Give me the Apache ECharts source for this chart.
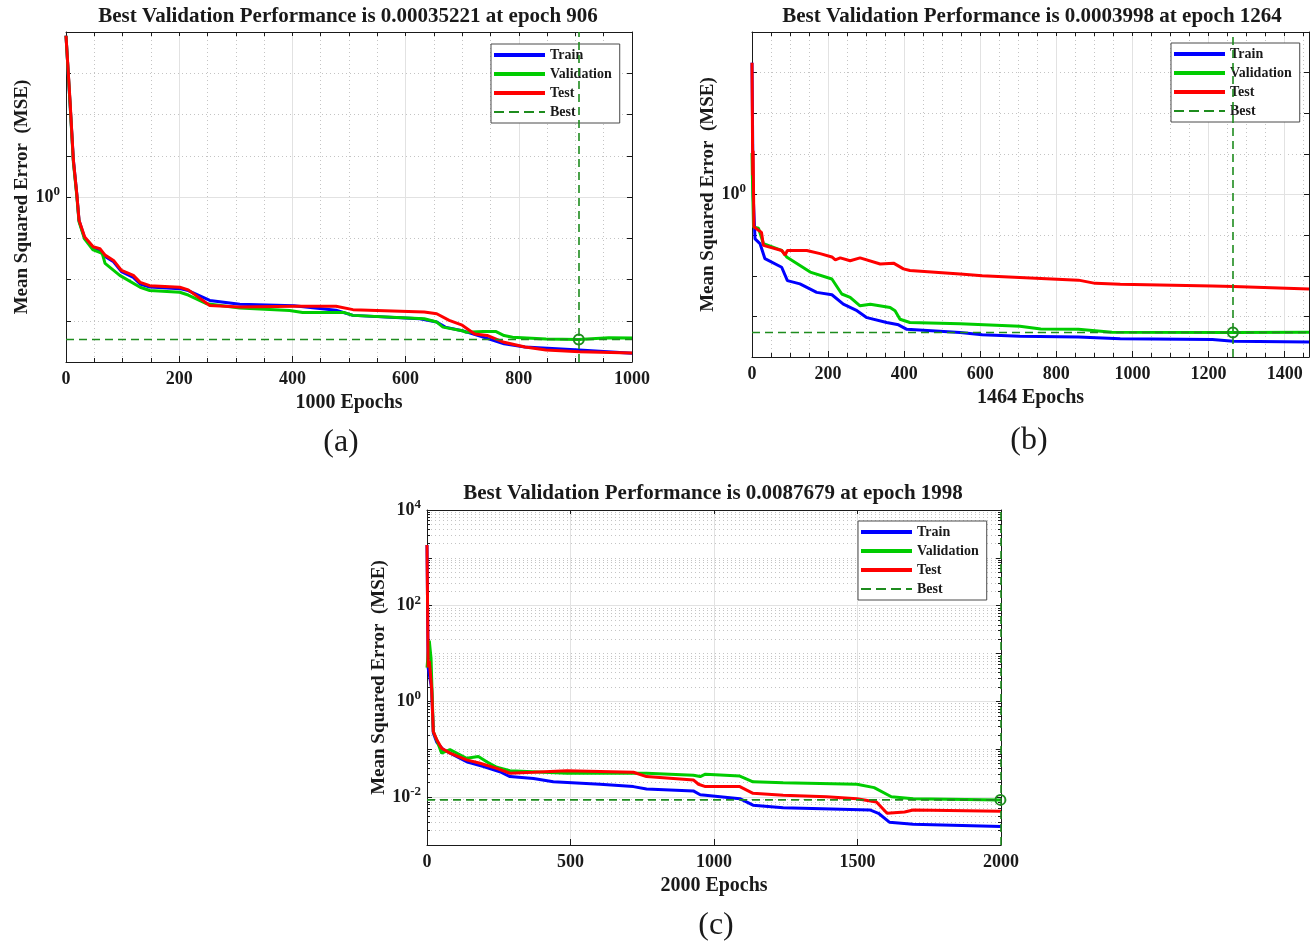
<!DOCTYPE html>
<html lang="en">
<head>
<meta charset="UTF-8">
<title>Performance curves</title>
<style>
    html, body { margin: 0; padding: 0; background: #fff; }
    #chart { width: 1315px; height: 943px; }
</style>
<script src="https://cdn.jsdelivr.net/npm/echarts@6/dist/echarts.min.js"></script>
</head>
<body>
<div id="chart"></div>
<script>
    // ---- values ----
    var panelNames = ['(a)', '(b)', '(c)'];
    var epochCount = [1000, 1464, 2000];
    var bestEpoch = [906, 1264, 1998];
    var bestMse = [0.00035221, 0.0003998, 0.0087679];

    // x tick labels
    var xTicksA = [0, 200, 400, 600, 800, 1000];
    var xTicksB = [0, 200, 400, 600, 800, 1000, 1200, 1400];
    var xTicksC = [0, 500, 1000, 1500, 2000];
    // y tick labels (log axis)
    var yLabelsA = [1];
    var yLabelsB = [1];
    var yLabelsC = [0.01, 1, 100, 10000];

    // panel (a)
    var trainA = [[0, 8100], [7, 200], [13, 8], [19, 1.2], [23, 0.27], [33, 0.1], [48, 0.058], [60, 0.048], [69, 0.036],
        [84, 0.027], [98, 0.0155], [119, 0.0112], [131, 0.0078], [148, 0.0066], [201, 0.006], [216, 0.0054], [254, 0.0031],
        [307, 0.0025], [403, 0.0023], [477, 0.0018], [507, 0.00135], [625, 0.00112], [655, 0.00093], [670, 0.0007],
        [700, 0.000575], [737, 0.0004], [774, 0.000275], [811, 0.00023], [907, 0.000195], [1000, 0.000162]];
    var valA = [[0, 8100], [7, 200], [13, 7], [19, 1.1], [23, 0.25], [33, 0.095], [48, 0.052], [64, 0.043], [69, 0.0245],
        [95, 0.0126], [131, 0.0065], [148, 0.0054], [201, 0.0049], [216, 0.0042], [249, 0.00257], [307, 0.00204],
        [395, 0.00178], [418, 0.00158], [492, 0.00158], [507, 0.00135], [633, 0.00112], [655, 0.00093], [666, 0.0007],
        [700, 0.000575], [707, 0.000525], [737, 0.00055], [759, 0.00055], [774, 0.000437], [789, 0.000398],
        [848, 0.000363], [906, 0.00035221], [959, 0.000389], [1000, 0.00038]];
    var testA = [[0, 8100], [7, 234], [13, 7.9], [19, 1.23], [23, 0.275], [33, 0.107], [48, 0.062], [60, 0.056], [69, 0.039],
        [84, 0.029], [98, 0.0166], [119, 0.0126], [131, 0.0085], [148, 0.0071], [201, 0.0065], [216, 0.0056], [254, 0.00234],
        [307, 0.00214], [403, 0.00224], [477, 0.00224], [507, 0.00186], [633, 0.00162], [655, 0.00148], [677, 0.00102],
        [700, 0.00078], [722, 0.00048], [744, 0.00044], [774, 0.0003], [811, 0.00023], [848, 0.000195], [907, 0.000178],
        [1000, 0.000166]];

    // panel (b)
    var trainB = [[0, 1740], [3, 1], [8, 0.081], [21, 0.062], [34, 0.0263], [78, 0.0162], [93, 0.0076], [126, 0.0063],
        [170, 0.0039], [210, 0.0034], [240, 0.002], [276, 0.00138], [302, 0.00093], [354, 0.00071], [385, 0.00062],
        [407, 0.00048], [547, 0.0004], [605, 0.000355], [704, 0.000324], [858, 0.000309], [968, 0.000282],
        [1210, 0.000269], [1265, 0.000245], [1464, 0.000234]];
    var valB = [[0, 10.5], [1, 3], [4, 0.158], [17, 0.148], [30, 0.062], [78, 0.042], [91, 0.029], [153, 0.0123],
        [210, 0.0083], [236, 0.00355], [258, 0.00295], [284, 0.00182], [311, 0.002], [363, 0.00166], [376, 0.00138],
        [389, 0.00085], [415, 0.000708], [547, 0.00066], [704, 0.000575], [759, 0.00049], [858, 0.000479],
        [946, 0.000407], [1264, 0.0003998], [1464, 0.000407]];
    var testB = [[0, 1740], [2, 3], [3, 12], [5, 0.16], [17, 0.132], [25, 0.117], [30, 0.056], [78, 0.042], [87, 0.032],
        [93, 0.042], [144, 0.042], [179, 0.035], [210, 0.029], [219, 0.0245], [232, 0.0275], [258, 0.0234], [284, 0.0275],
        [337, 0.0195], [372, 0.0204], [398, 0.0148], [415, 0.0135], [547, 0.011], [605, 0.01], [858, 0.0078],
        [902, 0.0065], [968, 0.0062], [1210, 0.0056], [1265, 0.0054], [1464, 0.0047]];

    // panel (c)
    var trainC = [[0, 1860], [4, 5], [16, 1.9], [22, 0.22], [34, 0.14], [57, 0.098], [138, 0.055], [197, 0.0437],
        [254, 0.0339], [289, 0.0269], [371, 0.0245], [440, 0.0209], [603, 0.0186], [719, 0.0166], [765, 0.0148],
        [928, 0.0135], [952, 0.0112], [970, 0.011], [1090, 0.0093], [1136, 0.0068], [1241, 0.006], [1543, 0.0054],
        [1573, 0.0046], [1611, 0.003], [1694, 0.0027], [2000, 0.00245]];
    var valC = [[0, 5.1], [8, 18.6], [14, 8], [22, 0.234], [35, 0.15], [51, 0.083], [80, 0.098], [138, 0.065],
        [179, 0.071], [208, 0.055], [243, 0.042], [289, 0.0355], [487, 0.0316], [765, 0.0316], [928, 0.0288],
        [952, 0.0269], [970, 0.0302], [1090, 0.0275], [1136, 0.0209], [1241, 0.02], [1498, 0.0186], [1558, 0.0158],
        [1618, 0.0102], [1694, 0.0093], [1998, 0.0087679], [2000, 0.0087]];
    var testC = [[0, 1860], [4, 5.2], [8, 7], [16, 1.95], [22, 0.234], [34, 0.158], [51, 0.105], [80, 0.083],
        [138, 0.06], [185, 0.051], [243, 0.04], [289, 0.0316], [371, 0.0331], [487, 0.0355], [719, 0.0331],
        [765, 0.0269], [928, 0.0229], [946, 0.0186], [970, 0.0166], [1090, 0.0166], [1136, 0.012], [1241, 0.011],
        [1392, 0.0102], [1498, 0.0093], [1566, 0.0079], [1603, 0.0046], [1664, 0.0049], [1694, 0.0054], [2000, 0.0051]];

    var FONT = 'Liberation Serif';
    var INK = '#1a1a1a';
    var BLUE = '#0000ff', GREEN = '#00cc00', RED = '#ff0000', BEST = '#1e8c1e';

    // layout of each panel
    var panels = [
        { grid: { left: 66, top: 32, width: 566, height: 330 }, xTicks: xTicksA, xMinor: 50, yExp: [-4, 4],
          yLabels: yLabelsA, yMinor: false, train: trainA, val: valA, test: testA,
          titleAt: [348, 17], capAt: [341, 443], legendAt: [491, 44] },
        { grid: { left: 752, top: 32, width: 557, height: 325 }, xTicks: xTicksB, xMinor: 50, yExp: [-4, 4],
          yLabels: yLabelsB, yMinor: false, train: trainB, val: valB, test: testB,
          titleAt: [1032, 17], capAt: [1029, 441], legendAt: [1171, 43] },
        { grid: { left: 427, top: 510, width: 574, height: 335 }, xTicks: xTicksC, xMinor: 0, yExp: [-3, 4],
          yLabels: yLabelsC, yMinor: true, train: trainC, val: valC, test: testC,
          titleAt: [713, 494], capAt: [716, 926], legendAt: [858, 521] }
    ];

    var option = {
        backgroundColor: '#fff',
        animation: false,
        title: [], legend: [], grid: [], xAxis: [], yAxis: [], series: []
    };

    function powLabel(v) {
        var e = Math.round(Math.log(v) / Math.LN10);
        return '{b|10}{s|' + e + '}';
    }

    var dotted = { color: '#c4c4c4', width: 1, type: [1, 3] };
    var solidGrid = { color: '#e2e2e2', width: 1, type: 'solid' };
    var boldText = { fontFamily: FONT, fontWeight: 'bold', color: INK };

    panels.forEach(function (p, i) {
        var xMax = epochCount[i];
        var yMin = Number('1e' + p.yExp[0]), yMax = Number('1e' + p.yExp[1]);

        option.grid.push(p.grid);

        // tick positions
        var xMinorTicks = [];
        if (p.xMinor) {
            for (var v = 0; v <= xMax; v += p.xMinor) xMinorTicks.push(v);
        }
        var xTickVals = p.xMinor ? xMinorTicks : p.xTicks;
        var decades = [];
        for (var k = p.yExp[0]; k <= p.yExp[1]; k++) decades.push(Number('1e' + k));
        var minors = [];
        if (p.yMinor) {
            for (var k2 = p.yExp[0]; k2 < p.yExp[1]; k2++) {
                for (var m = 2; m <= 9; m++) minors.push(Number(m + 'e' + k2));
            }
        }

        var xi = option.xAxis.length;
        option.xAxis.push({
            type: 'value', gridIndex: i, min: 0, max: xMax, position: 'bottom',
            name: xMax + ' Epochs', nameLocation: 'middle', nameGap: 31,
            nameTextStyle: Object.assign({ fontSize: 20 }, boldText),
            axisLine: { show: true, onZero: false, lineStyle: { color: INK, width: 1 } },
            axisTick: { show: true, inside: true, length: 4, customValues: xTickVals, lineStyle: { color: INK } },
            axisLabel: Object.assign({
                customValues: p.xTicks, margin: 8, fontSize: 18,
                formatter: function (val) { return String(val); }
            }, boldText),
            splitLine: { show: !!p.xMinor, lineStyle: dotted }
        });
        option.xAxis.push({
            type: 'value', gridIndex: i, min: 0, max: xMax, position: 'top',
            axisLine: { show: true, onZero: false, lineStyle: { color: INK, width: 1 } },
            axisTick: { show: true, inside: true, length: 4, customValues: xTickVals, lineStyle: { color: INK } },
            axisLabel: { show: false }, splitLine: { show: false }
        });
        option.xAxis.push({
            type: 'value', gridIndex: i, min: 0, max: xMax, position: 'bottom',
            axisLine: { show: false, onZero: false },
            axisTick: { show: true, inside: true, length: 6, customValues: p.xTicks, lineStyle: { color: INK } },
            axisLabel: { show: false }, splitLine: { show: true, lineStyle: solidGrid }
        });

        var yi = option.yAxis.length;
        option.yAxis.push({
            type: 'log', gridIndex: i, min: yMin, max: yMax, position: 'left',
            name: 'Mean Squared Error  (MSE)', nameLocation: 'middle', nameGap: 34,
            nameTextStyle: Object.assign({ fontSize: 19 }, boldText),
            axisLine: { show: true, onZero: false, lineStyle: { color: INK, width: 1 } },
            axisTick: { show: true, inside: true, length: 5, customValues: decades, lineStyle: { color: INK } },
            axisLabel: {
                customValues: p.yLabels, margin: 6, formatter: powLabel,
                rich: {
                    b: { fontFamily: FONT, fontWeight: 'bold', fontSize: 18, color: INK, lineHeight: 24 },
                    s: { fontFamily: FONT, fontWeight: 'bold', fontSize: 13, color: INK, lineHeight: 13, verticalAlign: 'top' }
                }
            },
            splitLine: { show: true, lineStyle: dotted }
        });
        option.yAxis.push({
            type: 'log', gridIndex: i, min: yMin, max: yMax, position: 'right',
            axisLine: { show: true, onZero: false, lineStyle: { color: INK, width: 1 } },
            axisTick: { show: true, inside: true, length: 5, customValues: decades, lineStyle: { color: INK } },
            axisLabel: { show: false }, splitLine: { show: false }
        });
        option.yAxis.push({
            type: 'log', gridIndex: i, min: yMin, max: yMax, position: 'left',
            axisLine: { show: false, onZero: false },
            axisTick: { show: false, customValues: p.yLabels },
            axisLabel: { show: false }, splitLine: { show: true, lineStyle: solidGrid }
        });
        if (p.yMinor) {
            option.yAxis.push({
                type: 'log', gridIndex: i, min: yMin, max: yMax, position: 'left',
                axisLine: { show: false, onZero: false },
                axisTick: { show: true, inside: true, length: 3, customValues: minors, lineStyle: { color: INK } },
                axisLabel: { show: false }, splitLine: { show: true, lineStyle: dotted }
            });
            option.yAxis.push({
                type: 'log', gridIndex: i, min: yMin, max: yMax, position: 'right',
                axisLine: { show: false, onZero: false },
                axisTick: { show: true, inside: true, length: 3, customValues: minors, lineStyle: { color: INK } },
                axisLabel: { show: false }, splitLine: { show: false }
            });
        }

        function curve(name, color, data) {
            return {
                name: name, type: 'line', xAxisIndex: xi, yAxisIndex: yi, data: data,
                showSymbol: false, symbol: 'none', color: color, silent: true, z: 3,
                lineStyle: { color: color, width: 3 }
            };
        }
        option.series.push(curve('Train', BLUE, p.train));
        option.series.push(curve('Validation', GREEN, p.val));
        option.series.push(curve('Test', RED, p.test));
        option.series.push({
            name: 'Best', type: 'line', xAxisIndex: xi, yAxisIndex: yi, z: 4, silent: true,
            data: [[0, bestMse[i]], [xMax, bestMse[i]]],
            showSymbol: false, symbol: 'none', color: BEST,
            lineStyle: { color: BEST, width: 1.6, type: [8, 5] },
            markLine: {
                silent: true, symbol: 'none', label: { show: false },
                lineStyle: { color: BEST, width: 1.6, type: [8, 5] },
                data: [{ xAxis: bestEpoch[i] }]
            },
            markPoint: {
                silent: true, symbol: 'circle', symbolSize: 10, label: { show: false },
                itemStyle: { color: 'rgba(0,0,0,0)', borderColor: BEST, borderWidth: 2 },
                data: [{ coord: [bestEpoch[i], bestMse[i]] }]
            }
        });

        option.title.push({
            text: 'Best Validation Performance is ' + bestMse[i] + ' at epoch ' + bestEpoch[i],
            left: p.titleAt[0], top: p.titleAt[1], padding: 0,
            textAlign: 'center', textVerticalAlign: 'middle',
            textStyle: { fontFamily: FONT, fontWeight: 'bold', fontSize: 21, color: INK }
        });
        option.title.push({
            text: panelNames[i],
            left: p.capAt[0], top: p.capAt[1], padding: 0,
            textAlign: 'center', textVerticalAlign: 'middle',
            textStyle: { fontFamily: FONT, fontWeight: 'normal', fontSize: 32, color: INK }
        });

        option.legend.push({
            left: p.legendAt[0], top: p.legendAt[1], orient: 'vertical',
            itemWidth: 51, itemHeight: 4, itemGap: 5,
            padding: [4, 8, 4, 3], backgroundColor: '#fff', borderColor: '#4a4a4a', borderWidth: 1,
            selectedMode: false,
            textStyle: { fontFamily: FONT, fontWeight: 'bold', fontSize: 14, color: INK, lineHeight: 14 },
            data: [
                { name: 'Train', icon: 'rect' },
                { name: 'Validation', icon: 'rect' },
                { name: 'Test', icon: 'rect' },
                { name: 'Best', icon: 'path://M0,0h10v2h-10zM15,0h10v2h-10zM30,0h10v2h-10zM45,0h6v2h-6z' }
            ]
        });
    });

    var chart = echarts.init(document.getElementById('chart'));
    chart.setOption(option);
</script>
</body>
</html>
